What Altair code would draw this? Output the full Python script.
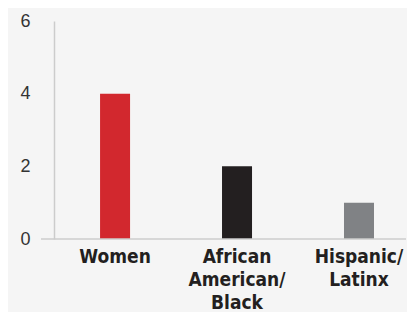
import altair as alt
import pandas as pd

categories = ["Women", "African|American/|Black", "Hispanic/|Latinx"]
values = [4, 2, 1]
colors = ["#d2282e", "#231f20", "#808285"]

df = pd.DataFrame({"group": categories, "value": values, "color": colors})

x_enc = alt.X(
    "group:N",
    sort=categories,
    title=None,
    scale=alt.Scale(paddingInner=0.754, paddingOuter=0.32, align=0.59),
    axis=alt.Axis(
        labelExpr="split(datum.label, '|')",
        labelAngle=0,
        labelFont="DejaVu Sans Condensed",
        labelFontWeight="bold",
        labelFontSize=19,
        labelColor="#231f20",
        labelLineHeight=23,
        labelPadding=8,
        labelBaseline="top",
        domain=False,
        ticks=False,
        grid=False,
    ),
)

bars = alt.Chart(df).mark_bar().encode(
    x=x_enc,
    y=alt.Y(
        "value:Q",
        title=None,
        scale=alt.Scale(domain=[0, 6]),
        axis=alt.Axis(
            values=[0, 2, 4, 6],
            labelFont="Liberation Sans",
            labelFontSize=18,
            labelColor="#333333",
            labelPadding=24,
            ticks=False,
            grid=False,
            domain=True,
            domainColor="#cccccc",
            domainWidth=1.5,
        ),
    ),
    color=alt.Color("color:N", scale=None, legend=None),
)

baseline = alt.Chart(pd.DataFrame({"y": [0]})).mark_rule(
    color="#cccccc", strokeWidth=1.5
).encode(
    y="y:Q",
    x=alt.value(-13),
    x2=alt.value(352),
)

chart = (
    alt.layer(bars, baseline)
    .properties(width=352, height=218, background="#f5f5f5", padding={"left": 11, "top": 4, "right": 0, "bottom": 0})
    .configure_view(stroke=None)
)

chart.save("out.html", embed_options={"renderer": "svg", "actions": False})
